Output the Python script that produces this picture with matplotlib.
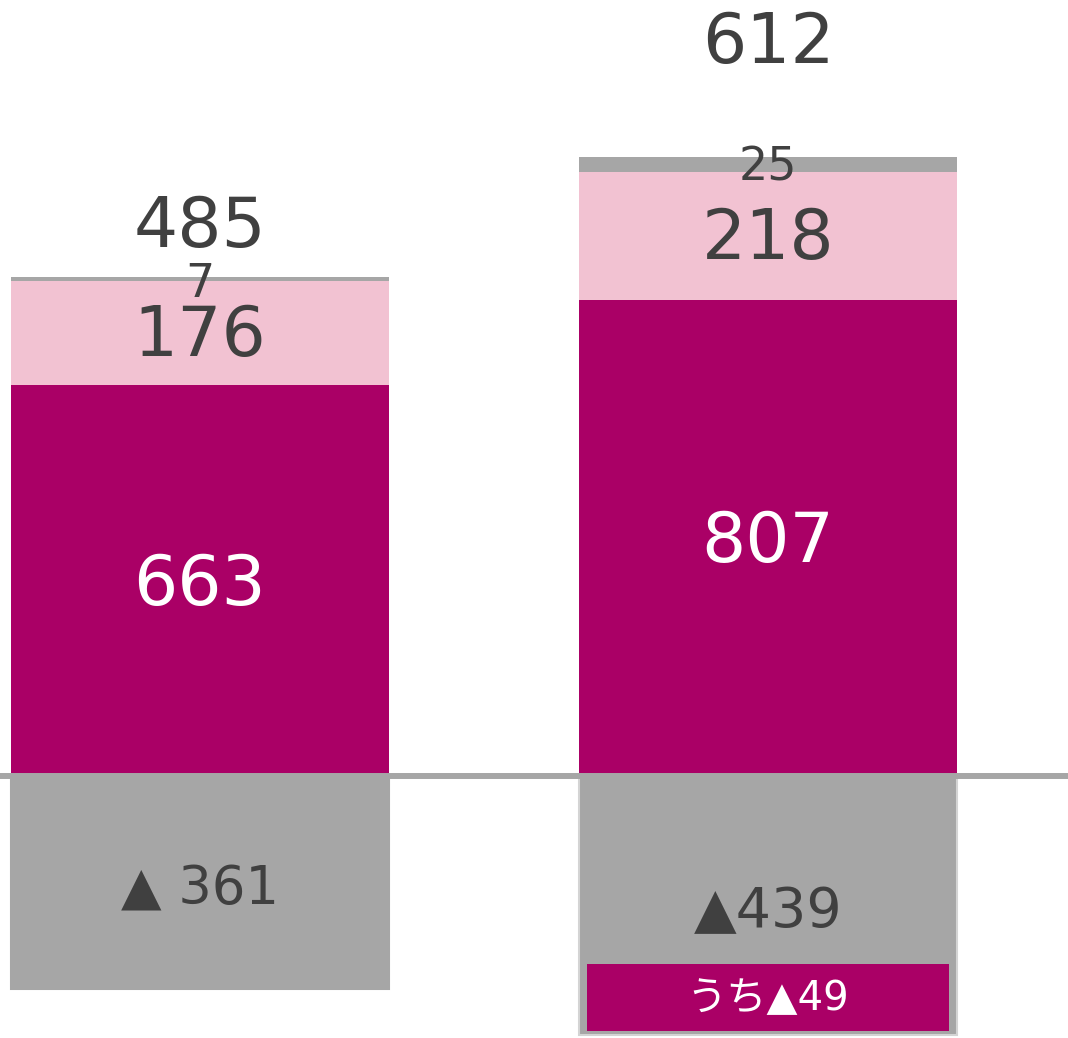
import matplotlib
matplotlib.use("Agg")
import matplotlib.pyplot as plt
from matplotlib.patches import Rectangle

plt.rcParams['font.family'] = ['DejaVu Sans', 'Noto Sans CJK JP']

categories = ["A", "B"]
base = [663, 807]          # magenta
mid = [176, 218]           # pink
top = [7, 25]              # gray top
neg = [-361, -439]         # gray negative
totals = [485, 612]
neg_labels = ["▲ 361", "▲439"]
inner_label = "うち▲49"
inner_value = -49

MAG = "#AA0066"
PINK = "#F2C2D2"
GRAY = "#A6A6A6"
TXT = "#404040"

fig = plt.figure(figsize=(10.68, 10.38), dpi=100)
ax = fig.add_axes([0, 0, 1, 1])
ax.set_xlim(-0.352, 1.528)
ax.set_ylim(-444.4, 1316.4)
ax.axis('off')

x = [0, 1]
w = 0.6655
ax.bar(x, base, width=w, color=MAG, zorder=2)
ax.bar(x, mid, width=w, bottom=base, color=PINK, zorder=2)
b3 = [b + m for b, m in zip(base, mid)]
ax.bar(x, top, width=w, bottom=b3, color=GRAY, zorder=2)
ax.bar(x, neg, width=w, color=GRAY, zorder=2,
       edgecolor=["#A6A6A6", "#D4D4D4"], linewidth=1.5)

ax.axhline(0, color=GRAY, lw=4.3, zorder=3)

top_off = [-12, -19]
for i in range(2):
    ax.text(x[i], base[i] / 2 - 8, str(base[i]), ha='center', va='center',
            color='white', fontsize=50, zorder=4)
    ax.text(x[i], base[i] + mid[i] / 2 - 6, str(mid[i]), ha='center', va='center',
            color=TXT, fontsize=50, zorder=4)
    ax.text(x[i], b3[i] + top[i] + top_off[i], str(top[i]), ha='center', va='center',
            color=TXT, fontsize=33, zorder=4)
    ax.text(x[i], neg[i] / 2 - 12, neg_labels[i], ha='center', va='center',
            color=TXT, fontsize=38 if i == 0 else 40, zorder=4)

ax.text(x[0], 930, str(totals[0]), ha='center', va='center', color=TXT, fontsize=50)
ax.text(x[1], 1243, str(totals[1]), ha='center', va='center', color=TXT, fontsize=50)

# inner box on second negative bar
bx0 = x[1] - w / 2 + 0.014
bw = w - 0.028
by0 = neg[1] + 7
bh = 113
ax.add_patch(Rectangle((bx0, by0), bw, bh, facecolor=MAG, edgecolor='none', zorder=4))
ax.text(x[1], by0 + bh / 2 - 3, inner_label, ha='center', va='center',
        color='white', fontsize=29, zorder=5)

fig.savefig("out.png", dpi=100)
